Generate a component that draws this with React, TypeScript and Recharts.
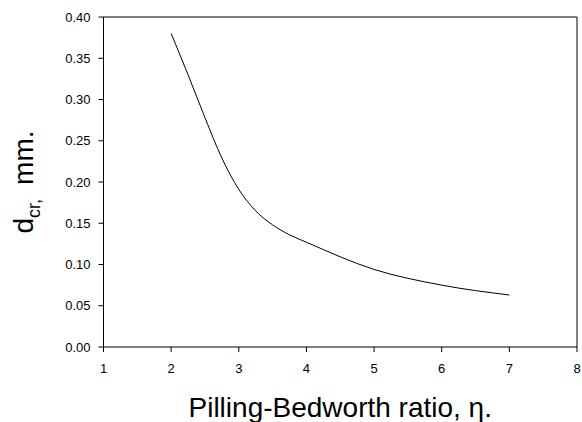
import { LineChart, Line, XAxis, YAxis, ReferenceLine, Label } from 'recharts';

const ratio = [2, 2.25, 2.5, 2.75, 3, 3.25, 3.5, 3.75, 4, 5, 6, 7];
const dcr = [0.38, 0.33, 0.278, 0.229, 0.191, 0.165, 0.148, 0.136, 0.127, 0.094, 0.075, 0.063];
const xTicks = [1, 2, 3, 4, 5, 6, 7, 8];
const yTicks = [0, 0.05, 0.1, 0.15, 0.2, 0.25, 0.3, 0.35, 0.4];

const data = ratio.map((r, i) => ({ r, d: dcr[i] }));

const font = '"Liberation Sans", Arial, sans-serif';

const XTitle = (props: any) => {
  const { x, y, width, height } = props.viewBox;
  return (
    <text x={x + width / 2} y={y + height - 5} textAnchor="middle" fontSize={28} fontFamily={font} fill="#000">
      Pilling-Bedworth ratio, η.
    </text>
  );
};

const YTitle = (props: any) => {
  const { y, height } = props.viewBox;
  return (
    <text
      transform={`translate(33, ${y + height / 2}) rotate(-90)`}
      textAnchor="middle"
      fontSize={28}
      fontFamily={font}
      fill="#000"
    >
      <tspan>d</tspan>
      <tspan fontSize={18} dy={7}>cr,</tspan>
      <tspan dy={-7} dx={14}>mm.</tspan>
    </text>
  );
};

export default function App() {
  return (
    <div style={{ position: 'absolute', left: 0, top: 0, width: 582, height: 422, background: '#fff' }}>
      <LineChart width={582} height={422} data={data} margin={{ top: 17, right: 5, bottom: 0, left: 0 }}>
        <XAxis
          dataKey="r"
          type="number"
          domain={[1, 8]}
          ticks={xTicks}
          height={75}
          stroke="#000"
          tickSize={5}
          tickMargin={12}
          tick={{ fill: '#000', fontSize: 13, fontFamily: font }}
        >
          <Label content={XTitle} />
        </XAxis>
        <YAxis
          type="number"
          domain={[0, 0.4]}
          ticks={yTicks}
          width={103.5}
          stroke="#000"
          tickSize={5}
          tickMargin={8}
          tickFormatter={(v: number) => v.toFixed(2)}
          tick={{ fill: '#000', fontSize: 13, fontFamily: font }}
        >
          <Label content={YTitle} />
        </YAxis>
        <ReferenceLine y={0.4} stroke="#000" />
        <ReferenceLine x={8} stroke="#000" />
        <Line type="monotone" dataKey="d" stroke="#000" strokeWidth={1} dot={false} isAnimationActive={false} />
      </LineChart>
    </div>
  );
}
